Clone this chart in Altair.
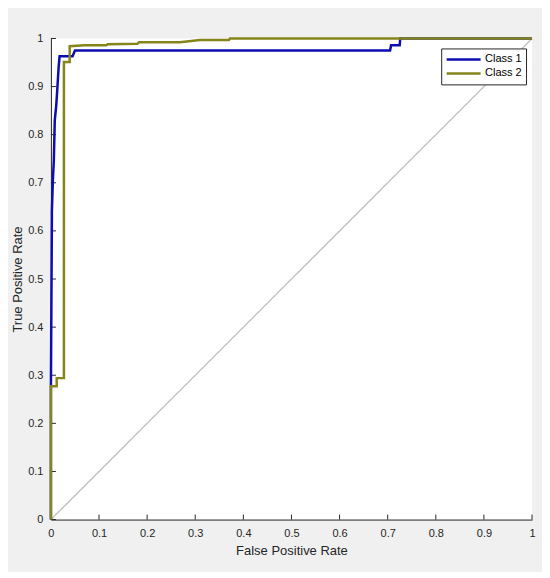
import altair as alt
import pandas as pd

# ROC curve points
fpr1 = [0.0, 0.0, 0.002, 0.002, 0.004, 0.006, 0.008, 0.011, 0.013, 0.016, 0.018, 0.045, 0.050, 0.705, 0.707, 0.725, 0.726, 1.0]
tpr1 = [0.0, 0.275, 0.628, 0.640, 0.705, 0.745, 0.830, 0.860, 0.890, 0.940, 0.963, 0.963, 0.975, 0.975, 0.986, 0.986, 1.0, 1.0]

fpr2 = [0.0, 0.0, 0.012, 0.012, 0.027, 0.027, 0.039, 0.039, 0.070, 0.115, 0.118, 0.180, 0.183, 0.268, 0.310, 0.370, 0.372, 1.0]
tpr2 = [0.0, 0.277, 0.277, 0.294, 0.294, 0.951, 0.951, 0.984, 0.986, 0.986, 0.988, 0.989, 0.992, 0.992, 0.997, 0.997, 1.0, 1.0]

series = ["Class 1", "Class 2"]
colors = ["#0c0cb0", "#85851c"]

ticks = [0.0, 0.1, 0.2, 0.3, 0.4, 0.5, 0.6, 0.7, 0.8, 0.9, 1.0]
diag = [0.0, 1.0]

rows = []
for name, xs, ys in [(series[0], fpr1, tpr1), (series[1], fpr2, tpr2)]:
    for i, (a, b) in enumerate(zip(xs, ys)):
        rows.append({"series": name, "x": a, "y": b, "i": i})
curves = pd.DataFrame(rows)
diag_df = pd.DataFrame({"x": diag, "y": diag, "i": [0, 1]})
tick_df = pd.DataFrame({"x": ticks, "y": ticks})

W, H = 482, 482
TXT = "#262626"
label_expr = "datum.value == 0 ? '0' : datum.value == 1 ? '1' : format(datum.value, '.1f')"

xscale = alt.Scale(domain=[0, 1], nice=False)
yscale = alt.Scale(domain=[0, 1], nice=False)

xaxis = alt.Axis(values=ticks, labelExpr=label_expr, title="False Positive Rate",
                 ticks=False, grid=False, domainColor=TXT, domainWidth=1,
                 labelColor=TXT, labelFontSize=11, labelPadding=8, labelFlush=False,
                 titleColor=TXT, titleFontSize=13, titleFontWeight="normal",
                 titlePadding=6)
yaxis = alt.Axis(values=ticks, labelExpr=label_expr, title="True Positive Rate",
                 ticks=False, grid=False, domainColor=TXT, domainWidth=1,
                 labelColor=TXT, labelFontSize=11, labelPadding=8, labelFlush=False,
                 titleColor=TXT, titleFontSize=13, titleFontWeight="normal",
                 titlePadding=3)

diag_layer = alt.Chart(diag_df).mark_line(color="#c4c4c4", strokeWidth=1.5).encode(
    x=alt.X("x:Q", scale=xscale, axis=xaxis),
    y=alt.Y("y:Q", scale=yscale, axis=yaxis),
    order=alt.Order("i:Q"),
)

curve_layer = alt.Chart(curves).mark_line(strokeWidth=2.5, strokeJoin="miter").encode(
    x=alt.X("x:Q", scale=xscale, axis=xaxis),
    y=alt.Y("y:Q", scale=yscale, axis=yaxis),
    color=alt.Color("series:N",
                    scale=alt.Scale(domain=series, range=colors),
                    legend=alt.Legend(title=None, orient="none", legendX=391, legendY=10,
                                      symbolType="stroke", symbolSize=1156,
                                      symbolStrokeWidth=2.5, clipHeight=14,
                                      labelFontSize=11, labelColor="#000000",
                                      labelOffset=3, padding=4,
                                      strokeColor=TXT, fillColor="white",
                                      rowPadding=0)),
    order=alt.Order("i:Q"),
)

xticks = alt.Chart(tick_df).mark_rule(color=TXT, strokeWidth=1).encode(
    x=alt.X("x:Q", scale=xscale, axis=xaxis),
    y=alt.value(H),
    y2=alt.value(H - 5),
)
yticks = alt.Chart(tick_df).mark_rule(color=TXT, strokeWidth=1).encode(
    y=alt.Y("y:Q", scale=yscale, axis=yaxis),
    x=alt.value(0),
    x2=alt.value(5),
)

chart = alt.layer(diag_layer, xticks, yticks, curve_layer).properties(
    width=W, height=H,
    autosize=alt.AutoSizeParams(type="none"),
    padding={"left": 43, "top": 30, "right": 10, "bottom": 52},
    background="#f0f0f0",
).configure(font="Liberation Sans").configure_view(stroke=None, fill="white")

chart.save("out.html", embed_options={"renderer": "svg", "actions": False})
